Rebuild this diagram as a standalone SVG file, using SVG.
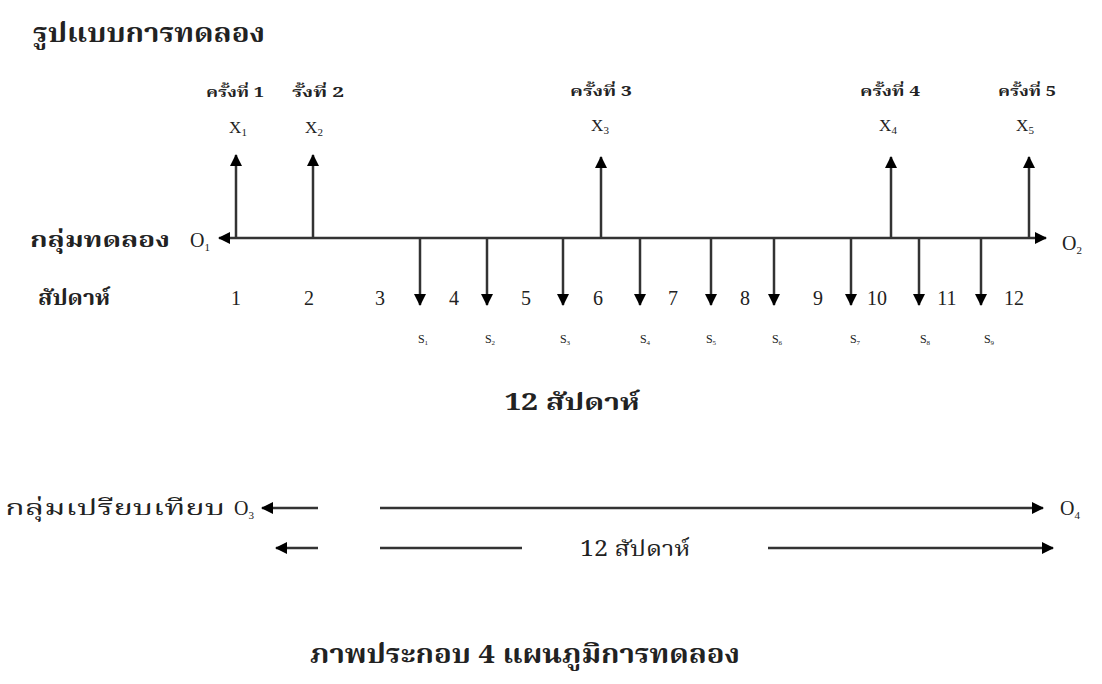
<svg xmlns="http://www.w3.org/2000/svg" width="1102" height="684" viewBox="0 0 1102 684">
<style>
  .th { font-family: "Noto Serif Thai", "Noto Sans Thai", "Liberation Serif", "DejaVu Serif", serif; fill: #222; }
  .num { font-family: "Liberation Serif", serif; fill: #222; }
  .b { font-weight: bold; }
  .ln { stroke: #333; stroke-width: 2.5; fill: none; }
  .sm { font-size: 11px; }
</style>
<defs>
  <marker id="ah" viewBox="0 0 12 12" refX="11" refY="6" markerWidth="12" markerHeight="12" markerUnits="userSpaceOnUse" orient="auto">
    <path d="M0,0 L12,6 L0,12 z" fill="#000"/>
  </marker>
</defs>
<rect width="1102" height="684" fill="#fff"/>

<g id="title"><text class="th b" x="33" y="42" font-size="27" textLength="232" lengthAdjust="spacingAndGlyphs">รูปแบบการทดลอง</text></g>

<g id="connectors">
  <!-- main timeline -->
  <line class="ln" x1="236" y1="238" x2="1046" y2="238" marker-end="url(#ah)"/>
  <line class="ln" x1="236" y1="238" x2="219" y2="238" marker-end="url(#ah)"/>
  <!-- up arrows -->
  <line class="ln" x1="236" y1="238" x2="236" y2="155" marker-end="url(#ah)"/>
  <line class="ln" x1="313" y1="238" x2="313" y2="155" marker-end="url(#ah)"/>
  <line class="ln" x1="601" y1="238" x2="601" y2="157" marker-end="url(#ah)"/>
  <line class="ln" x1="891" y1="238" x2="891" y2="157" marker-end="url(#ah)"/>
  <line class="ln" x1="1029" y1="238" x2="1029" y2="157" marker-end="url(#ah)"/>
  <!-- down arrows -->
  <line class="ln" x1="420" y1="238" x2="420" y2="305" marker-end="url(#ah)"/>
  <line class="ln" x1="487" y1="238" x2="487" y2="305" marker-end="url(#ah)"/>
  <line class="ln" x1="563" y1="238" x2="563" y2="305" marker-end="url(#ah)"/>
  <line class="ln" x1="640" y1="238" x2="640" y2="305" marker-end="url(#ah)"/>
  <line class="ln" x1="711" y1="238" x2="711" y2="305" marker-end="url(#ah)"/>
  <line class="ln" x1="774" y1="238" x2="774" y2="305" marker-end="url(#ah)"/>
  <line class="ln" x1="851" y1="238" x2="851" y2="305" marker-end="url(#ah)"/>
  <line class="ln" x1="919" y1="238" x2="919" y2="305" marker-end="url(#ah)"/>
  <line class="ln" x1="981" y1="238" x2="981" y2="305" marker-end="url(#ah)"/>
  <!-- comparison group -->
  <line class="ln" x1="318" y1="508" x2="262" y2="508" marker-end="url(#ah)"/>
  <line class="ln" x1="380" y1="508" x2="1043" y2="508" marker-end="url(#ah)"/>
  <line class="ln" x1="318" y1="548" x2="276" y2="548" marker-end="url(#ah)"/>
  <line class="ln" x1="380" y1="548" x2="522" y2="548"/>
  <line class="ln" x1="768" y1="548" x2="1053" y2="548" marker-end="url(#ah)"/>
</g>

<g id="sessions" class="th b" font-size="14" text-anchor="middle">
  <text x="235" y="97" textLength="58" lengthAdjust="spacingAndGlyphs">ครั้งที่ 1</text>
  <text x="318" y="97" textLength="52" lengthAdjust="spacingAndGlyphs">รั้งที่ 2</text>
  <text x="601" y="96" textLength="62" lengthAdjust="spacingAndGlyphs">ครั้งที่ 3</text>
  <text x="890" y="96" textLength="60" lengthAdjust="spacingAndGlyphs">ครั้งที่ 4</text>
  <text x="1027" y="96" textLength="58" lengthAdjust="spacingAndGlyphs">ครั้งที่ 5</text>
</g>

<g id="treatments" class="num" font-size="17" text-anchor="middle">
  <text x="238" y="133">X<tspan class="sm" dy="3">1</tspan></text>
  <text x="314" y="133">X<tspan class="sm" dy="3">2</tspan></text>
  <text x="600" y="131">X<tspan class="sm" dy="3">3</tspan></text>
  <text x="888" y="131">X<tspan class="sm" dy="3">4</tspan></text>
  <text x="1025" y="131">X<tspan class="sm" dy="3">5</tspan></text>
</g>

<g id="experimental-group">
  <text class="th b" x="30" y="247" font-size="22" textLength="140" lengthAdjust="spacingAndGlyphs">กลุ่มทดลอง</text>
  <text class="num" x="190" y="247" font-size="20">O<tspan class="sm" dy="4">1</tspan></text>
  <text class="num" x="1062" y="250" font-size="20">O<tspan class="sm" dy="4">2</tspan></text>
</g>

<g id="weeks">
  <text class="th b" x="38" y="305" font-size="22" textLength="72" lengthAdjust="spacingAndGlyphs">สัปดาห์</text>
  <g class="num" font-size="20" text-anchor="middle">
    <text x="236" y="305">1</text>
    <text x="309" y="305">2</text>
    <text x="380" y="305">3</text>
    <text x="454" y="305">4</text>
    <text x="526" y="305">5</text>
    <text x="598" y="305">6</text>
    <text x="673" y="305">7</text>
    <text x="745" y="305">8</text>
    <text x="818" y="305">9</text>
    <text x="877" y="305">10</text>
    <text x="947" y="305">11</text>
    <text x="1014" y="305">12</text>
  </g>
</g>

<g id="observations" class="num" font-size="12" text-anchor="middle" fill="#555">
  <text x="423" y="343">S<tspan font-size="7" dy="2">1</tspan></text>
  <text x="490" y="343">S<tspan font-size="7" dy="2">2</tspan></text>
  <text x="565" y="343">S<tspan font-size="7" dy="2">3</tspan></text>
  <text x="645" y="343">S<tspan font-size="7" dy="2">4</tspan></text>
  <text x="711" y="343">S<tspan font-size="7" dy="2">5</tspan></text>
  <text x="777" y="343">S<tspan font-size="7" dy="2">6</tspan></text>
  <text x="855" y="343">S<tspan font-size="7" dy="2">7</tspan></text>
  <text x="925" y="343">S<tspan font-size="7" dy="2">8</tspan></text>
  <text x="989" y="343">S<tspan font-size="7" dy="2">9</tspan></text>
</g>

<g id="duration"><text class="th b" x="572" y="410" font-size="23" text-anchor="middle" textLength="135" lengthAdjust="spacingAndGlyphs">12 สัปดาห์</text></g>

<g id="comparison-group">
  <text class="th" x="5" y="515" font-size="22" textLength="220" lengthAdjust="spacingAndGlyphs">กลุ่มเปรียบเทียบ</text>
  <text class="num" x="234" y="515" font-size="20">O<tspan class="sm" dy="4">3</tspan></text>
  <text class="num" x="1060" y="515" font-size="20">O<tspan class="sm" dy="4">4</tspan></text>
  <text class="th" x="635" y="556" font-size="22" text-anchor="middle" textLength="110" lengthAdjust="spacingAndGlyphs">12  สัปดาห์</text>
</g>

<g id="caption"><text class="th b" x="525" y="663" font-size="26" text-anchor="middle" textLength="430" lengthAdjust="spacingAndGlyphs">ภาพประกอบ 4 แผนภูมิการทดลอง</text></g>
</svg>
